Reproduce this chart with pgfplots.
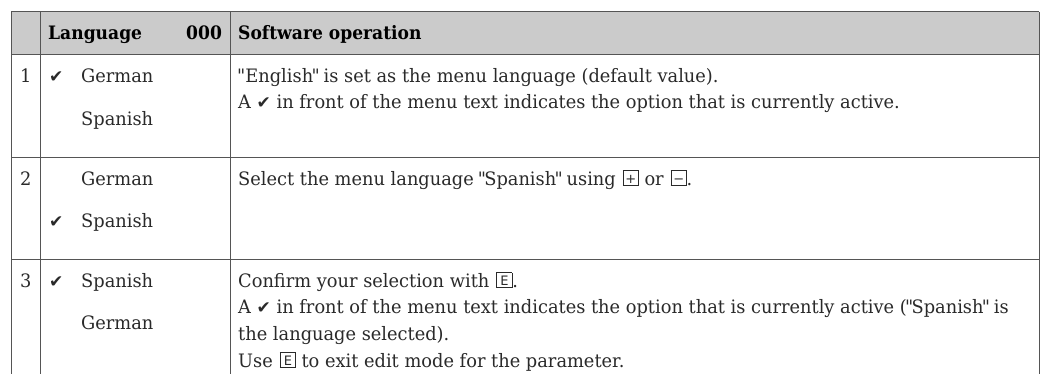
\documentclass[border=0pt]{standalone}
\usepackage{fontspec}
\usepackage{pgfplots}
\pgfplotsset{compat=1.18}
\setmainfont[FakeStretch=0.962,Ligatures=TeXOff]{DejaVu Serif}
\newfontfamily\hdrf[FakeStretch=0.925]{DejaVu Serif}
\newfontfamily\symb{DejaVu Sans}
\newfontfamily\keyf{DejaVu Sans}
\definecolor{hdr}{HTML}{CBCBCB}
\definecolor{rule}{HTML}{555555}
\definecolor{ink}{HTML}{2A2A2A}
\newcommand{\q}{\kern-1.7pt"\kern-1.7pt}
\newcommand{\chk}{{\symb\fontsize{17}{20}\selectfont\char"2714}}
\newcommand{\keybox}[1]{\hspace{7pt}\raisebox{1.5pt}{\setlength{\fboxsep}{0.6pt}\setlength{\fboxrule}{0.8pt}\fbox{\makebox[13.2pt]{\keyf\fontsize{13}{14}\selectfont\rule[-1.2pt]{0pt}{13.2pt}#1}}}}
\tikzset{
  txt/.style={anchor=base west, inner sep=0pt, text=ink, font=\fontsize{18.5}{20}\selectfont},
  bld/.style={anchor=base west, inner sep=0pt, text=black, font=\hdrf\fontsize{18.5}{20}\selectfont\bfseries},
}
\begin{document}
\begin{tikzpicture}
\begin{axis}[
  width=1045pt, height=374pt, scale only axis,
  xmin=0, xmax=1045, ymin=0, ymax=374, y dir=reverse,
  hide axis, clip=false,
]
\addplot[draw=none, fill=white] coordinates {(0,0) (1045,0) (1045,374) (0,374)} --cycle;
\addplot[draw=none, fill=hdr] coordinates {(11,12) (1039,12) (1039,55) (11,55)} --cycle;
\addplot[rule, line width=1pt] coordinates {(11,12) (1039,12)};
\addplot[rule, line width=1pt] coordinates {(11,55) (1039,55)};
\addplot[rule, line width=1pt] coordinates {(11,157) (1039,157)};
\addplot[rule, line width=1pt] coordinates {(11,259) (1039,259)};
\addplot[rule, line width=1pt] coordinates {(11,12) (11,374)};
\addplot[rule, line width=1pt] coordinates {(40,12) (40,374)};
\addplot[rule, line width=1pt] coordinates {(230,12) (230,374)};
\addplot[rule, line width=1pt] coordinates {(1039,12) (1039,374)};
% header
\node[bld] at (axis cs:48,40) {Language};
\node[bld] at (axis cs:186,40) {000};
\node[bld] at (axis cs:238,40) {Software operation};
% row numbers
\node[txt] at (axis cs:20,83) {1};
\node[txt] at (axis cs:20,185) {2};
\node[txt] at (axis cs:20,287) {3};
% ticks
\node[txt] at (axis cs:49,83) {\chk};
\node[txt] at (axis cs:49,227) {\chk};
\node[txt] at (axis cs:49,287) {\chk};
% language cells
\node[txt] at (axis cs:81,83) {German};
\node[txt] at (axis cs:81,125) {Spanish};
\node[txt] at (axis cs:81,185) {German};
\node[txt] at (axis cs:81,227) {Spanish};
\node[txt] at (axis cs:81,287) {Spanish};
\node[txt] at (axis cs:81,329) {German};
% operation cells
\node[txt] at (axis cs:238,83) {\kern-1pt"English\q{} is set as the menu language (default value).};
\node[txt] at (axis cs:238,108) {A \chk{} in front of the menu text indicates the option that is currently active.};
\node[txt] at (axis cs:238,185) {Select the menu language \q Spanish\q{} using\keybox{+} or\keybox{−}.};
\node[txt] at (axis cs:238,287) {Confirm your selection with\keybox{E}.};
\node[txt] at (axis cs:238,313) {A \chk{} in front of the menu text indicates the option that is currently active (\q Spanish\q{} is};
\node[txt] at (axis cs:238,340) {the language selected).};
\node[txt] at (axis cs:238,367) {Use\keybox{E} to exit edit mode for the parameter.};
\end{axis}
\end{tikzpicture}
\end{document}
